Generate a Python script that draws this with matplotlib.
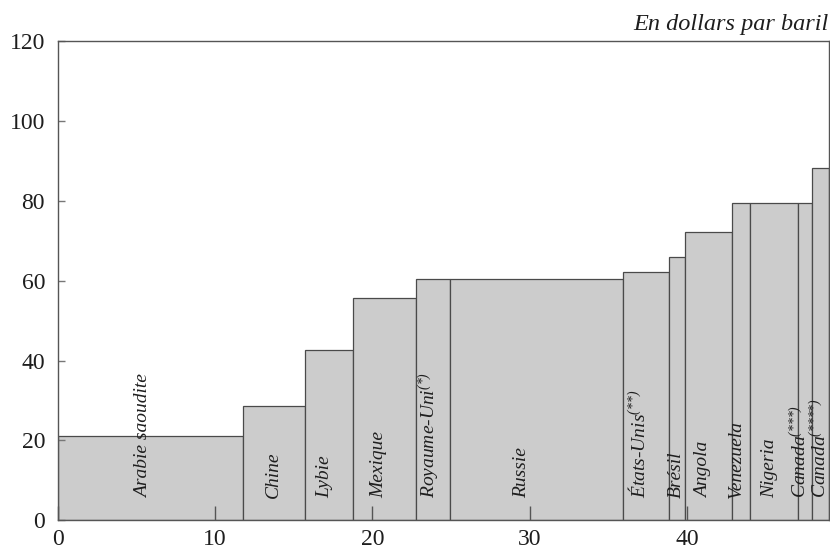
import matplotlib.pyplot as plt
import numpy as np

plt.rcParams['font.family'] = ['Liberation Serif', 'DejaVu Serif']
plt.rcParams['mathtext.fontset'] = 'custom'
plt.rcParams['mathtext.rm'] = 'Liberation Serif:italic'
plt.rcParams['mathtext.it'] = 'Liberation Serif:italic'

# pays, production (largeur, mb/j) et coût (hauteur, $/baril)
pays = ["Arabie saoudite", "Chine", "Lybie", "Mexique", "Royaume-Uni$^{({*})}$",
        "Russie", "États-Unis$^{({*}{*})}$", "Brésil", "Angola", "Venezuela",
        "Nigeria", "Canada$^{({*}{*}{*})}$", "Canada$^{({*}{*}{*}{*})}$"]
largeurs = [11.8, 3.95, 3.0, 4.0, 2.15, 11.0, 2.95, 1.0, 3.0, 1.15, 3.0, 0.95, 1.05]
couts = [21.2, 28.7, 42.6, 55.7, 60.5, 60.4, 62.1, 66.0, 72.2, 79.4, 79.4, 79.4, 88.1]

# décalage horizontal des étiquettes (mise en page)
decal = [-0.45, -0.05, -0.25, -0.35, -0.2, -0.9, -0.45, -0.05, -0.3, -0.3, -0.3, -0.3, -0.08]

gauches = np.concatenate([[0], np.cumsum(largeurs)[:-1]])

fig = plt.figure(figsize=(8.3, 5.5), dpi=100)
ax = fig.add_axes([0.0693, 0.054, 0.9295, 0.8715])

ax.bar(gauches, couts, width=largeurs, align="edge", color="#cccccc",
       edgecolor="#4a4a4a", linewidth=0.9)

for g, w, nom, d in zip(gauches, largeurs, pays, decal):
    ax.text(g + w / 2 + d, 5.6, nom, rotation=90, ha="center", va="bottom",
            fontstyle="italic", fontsize=14, color="#1e1e1e")

ax.set_xlim(0, 49)
ax.set_ylim(0, 120)
ax.set_xticks([0, 10, 20, 30, 40])
ax.set_yticks([0, 20, 40, 60, 80, 100, 120])
ax.tick_params(axis="x", direction="in", length=10, width=1, color="#555555",
               labelsize=17, pad=6, labelcolor="#1e1e1e")
ax.tick_params(axis="y", direction="in", length=5, width=1, color="#777777",
               labelsize=17, pad=9, labelcolor="#1e1e1e")
for s in ax.spines.values():
    s.set_color("#555555")
    s.set_linewidth(1.0)

fig.text(0.9988, 0.945, "En dollars par baril", ha="right", va="baseline",
         fontstyle="italic", fontsize=17.5, color="#1e1e1e")

fig.savefig("out.png", dpi=100)
